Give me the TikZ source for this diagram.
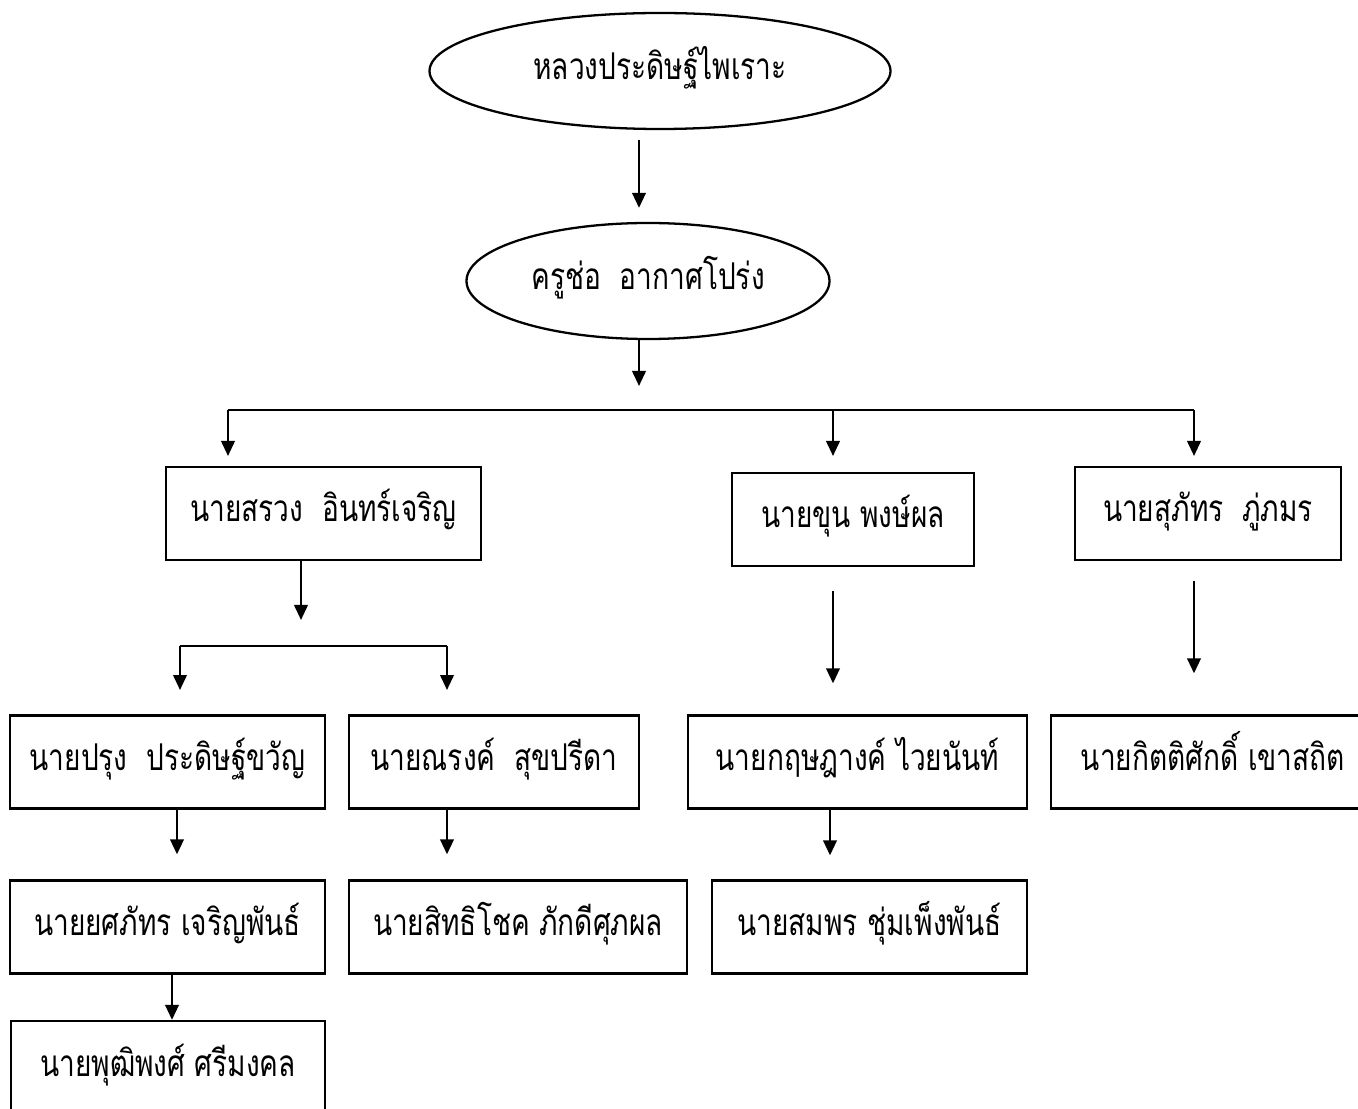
\documentclass[tikz,border=0pt]{standalone}
\usepackage{fontspec}
\newfontfamily\thaifont[Script=Thai,FakeStretch=0.76]{Loma}
\usetikzlibrary{arrows.meta,shapes.geometric}

\begin{document}
\begin{tikzpicture}[
        font=\thaifont\fontsize{21}{25}\selectfont,
        line width=1.3pt,
        person/.style={draw,rectangle,inner sep=0pt,minimum height=1.86cm,text height=0.4cm,text depth=0.06cm},
        elder/.style={draw,ellipse,inner sep=0pt,minimum height=2.32cm,text height=0.4cm,text depth=0.06cm},
        link/.style={-{Triangle[width=0.27cm,length=0.3cm]}}]
        \clip (0,0) rectangle (27.16,-22.18);
        \fill[white] (0,0) rectangle (27.16,-22.18);

        \node[elder,minimum width=9.22cm] (luang) at (13.20,-1.42) {หลวงประดิษฐ์ไพเราะ};
        \node[elder,minimum width=7.26cm] (chor) at (12.96,-5.62) {ครูช่อ~~อากาศโปร่ง};

        \node[person,minimum width=6.30cm] (sruang) at (6.47,-10.27) {นายสรวง~~อินทร์เจริญ};
        \node[person,minimum width=4.84cm] (khun) at (17.06,-10.39) {นายขุน พงษ์ผล};
        \node[person,minimum width=5.32cm] (suphat) at (24.16,-10.27) {นายสุภัทร~~ภู่ภมร};

        \node[person,minimum width=6.30cm] (prung) at (3.35,-15.24) {นายปรุง~~ประดิษฐ์ขวัญ};
        \node[person,minimum width=5.80cm] (narong) at (9.88,-15.24) {นายณรงค์~~สุขปรีดา};
        \node[person,minimum width=6.78cm] (kritsadang) at (17.15,-15.24) {นายกฤษฎางค์ ไวยนันท์};
        \node[person,minimum width=6.48cm] (kittisak) at (24.26,-15.24) {นายกิตติศักดิ์ เขาสถิต};

        \node[person,minimum width=6.30cm] (yotsaphat) at (3.35,-18.54) {นายยศภัทร เจริญพันธ์};
        \node[person,minimum width=6.76cm] (sitthichok) at (10.36,-18.54) {นายสิทธิโชค ภักดีศุภผล};
        \node[person,minimum width=6.30cm] (somporn) at (17.39,-18.54) {นายสมพร ชุ่มเพ็งพันธ์};

        \node[person,minimum width=6.28cm] (phutthiphong) at (3.36,-21.35) {นายพุฒิพงศ์ ศรีมงคล};

        \coordinate (spine) at (12.78,0);
        \coordinate (bar1) at (0,-8.20);
        \coordinate (tips1) at (0,-9.12);
        \coordinate (colA) at (4.56,0);
        \coordinate (colB) at (16.66,0);
        \coordinate (colC) at (23.88,0);
        \coordinate (colS) at (6.02,0);
        \coordinate (bar2) at (0,-12.92);
        \coordinate (tips2) at (0,-13.80);
        \coordinate (colD) at (3.60,0);
        \coordinate (colE) at (8.94,0);
        \coordinate (colF) at (16.60,0);
        \coordinate (colH) at (3.54,0);
        \coordinate (colJ) at (3.44,0);

        \draw[link,shorten <=0.2cm,shorten >=0.28cm] (luang.south -| spine) -- (chor.north -| spine);
        \draw[link,shorten >=0.48cm] (chor.south -| spine) -- (bar1 -| spine);
        \draw (bar1 -| colA) -- (bar1 -| colC);
        \foreach \c in {colA,colB,colC}
            \draw[link] (bar1 -| \c) -- (tips1 -| \c);

        \draw[link,shorten >=0.52cm] (sruang.south -| colS) -- (bar2 -| colS);
        \draw (bar2 -| colD) -- (bar2 -| colE);
        \foreach \c in {colD,colE}
            \draw[link] (bar2 -| \c) -- (tips2 -| \c);
        \draw[link,shorten <=0.48cm,shorten >=0.62cm] (khun.south -| colB) -- (kritsadang.north -| colB);
        \draw[link,shorten <=0.4cm,shorten >=0.82cm] (suphat.south -| colC) -- (kittisak.north -| colC);

        \draw[link,shorten >=0.5cm] (prung.south -| colH) -- (yotsaphat.north -| colH);
        \draw[link,shorten >=0.5cm] (narong.south -| colE) -- (sitthichok.north -| colE);
        \draw[link,shorten >=0.48cm] (kritsadang.south -| colF) -- (somporn.north -| colF);
        \draw[link] (yotsaphat.south -| colJ) -- (phutthiphong.north -| colJ);
    \end{tikzpicture}
\end{document}
